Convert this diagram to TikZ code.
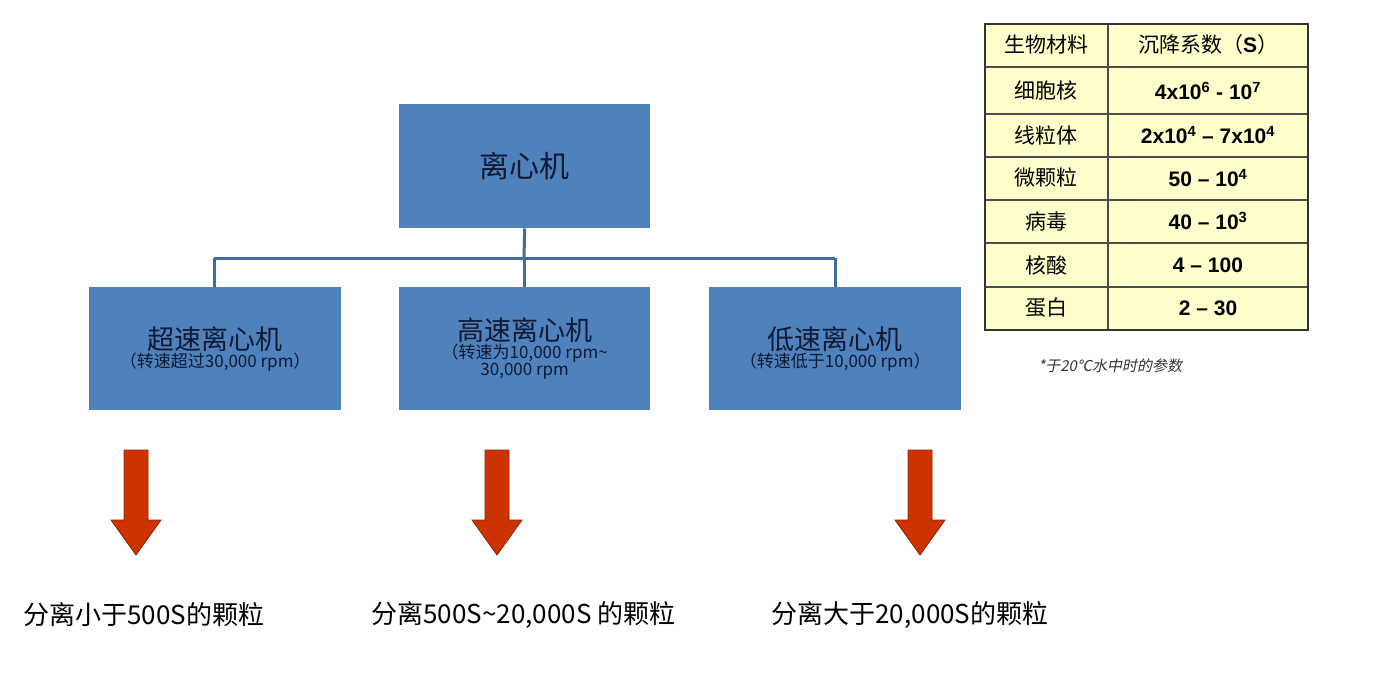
\documentclass[tikz,border=0pt]{standalone}
\usepackage{fontspec}
\setmainfont{Liberation Sans}
\newfontfamily\cjk{Noto Sans CJK SC}
\definecolor{boxblue}{HTML}{4F81BD}
\definecolor{linkblue}{HTML}{3E6E9E}
\definecolor{navy}{HTML}{0F1A33}
\definecolor{arrred}{HTML}{CC3300}
\definecolor{tabfill}{HTML}{FFFFCC}
\newcommand{\bigtitle}{\fontsize{27}{34}\selectfont}
\newcommand{\smlsub}{\fontsize{17}{24}\selectfont}
\begin{document}
\begin{tikzpicture}[x=1pt,y=-1pt,
  box/.style={fill=boxblue,draw=none,minimum width=252pt,minimum height=123pt,anchor=north west,align=center,text=navy,inner sep=0,font=\cjk},
  link/.style={draw=linkblue,line width=3pt},
  harrow/.style={fill=arrred,draw=arrred!70!black,line width=0.8pt},
  res/.style={anchor=west,font=\cjk\fontsize{26}{30}\selectfont,text=black},
  cell/.style={font=\cjk\fontsize{21}{24}\selectfont},
  val/.style={font=\bfseries\fontsize{21}{24}\selectfont}]
\useasboundingbox (0,0) rectangle (1384,690);
\node[box,minimum width=251pt,minimum height=124pt] (top) at (399,104) {\fontsize{30}{34}\selectfont 离心机};
\node[box] (b1) at (89,287) {\bigtitle 超速离心机\\ \smlsub （转速超过30,000 rpm）};
\node[box,minimum width=251pt] (b2) at (399,287) {\bigtitle 高速离心机\\ \smlsub （转速为10,000 rpm\textasciitilde\\ \smlsub 30,000 rpm};
\node[box] (b3) at (709,287) {\bigtitle 低速离心机\\ \smlsub （转速低于10,000 rpm）};
\coordinate (j) at (524,258);
\coordinate (jl) at (214,258);
\coordinate (jr) at (835,258);
\draw[link] (top.south) -- (j);
\draw[link] (jl) -- (jr);
\draw[link] (jl) -- (jl|-b1.north);
\draw[link] (j) -- (j|-b2.north);
\draw[link] (jr) -- (jr|-b3.north);
\foreach \x in {136,497,920}{
  \draw[harrow] (\x-12,450) -- (\x+12,450) -- (\x+12,520) -- (\x+25,520) -- (\x,555) -- (\x-25,520) -- (\x-12,520) -- cycle;
}
\node[res] (r1) at (20,615) {分离小于500S的颗粒};
\node[res] (r2) at (368,615) {分离500S\textasciitilde20,000S 的颗粒};
\node[res] (r3) at (768,615) {分离大于20,000S的颗粒};
% table
\fill[tabfill] (985,24) rectangle (1308,330);
\foreach \y in {67,114,157,200,243,287} \draw[black!70,line width=1.2pt] (985,\y) -- (1308,\y);
\draw[black!70,line width=1.2pt] (1108,24) -- (1108,330);
\draw[black!80,line width=2.5pt] (985,24) rectangle (1308,330);
\node[cell] (h1) at (1046,45) {生物材料};
\node[cell] (h2) at (1208,45) {沉降系数（{\fontspec{Liberation Sans}\bfseries S}）};
\node[cell] (c1) at (1046,91) {细胞核};
\node[val] (v1) at (1208,91) {4x10\textsuperscript{6} - 10\textsuperscript{7}};
\node[cell] (c2) at (1046,135) {线粒体};
\node[val] (v2) at (1208,135) {2x10\textsuperscript{4} -- 7x10\textsuperscript{4}};
\node[cell] (c3) at (1046,178) {微颗粒};
\node[val] (v3) at (1208,178) {50 -- 10\textsuperscript{4}};
\node[cell] (c4) at (1046,221) {病毒};
\node[val] (v4) at (1208,221) {40 -- 10\textsuperscript{3}};
\node[cell] (c5) at (1046,265) {核酸};
\node[val] (v5) at (1208,265) {4 -- 100};
\node[cell] (c6) at (1046,308) {蛋白};
\node[val] (v6) at (1208,308) {2 -- 30};
\node[font=\cjk\fontsize{15}{18}\selectfont,text=black!80,anchor=west,xslant=0.2] (fn) at (1036,366) {*于20℃水中时的参数};
\end{tikzpicture}
\end{document}
